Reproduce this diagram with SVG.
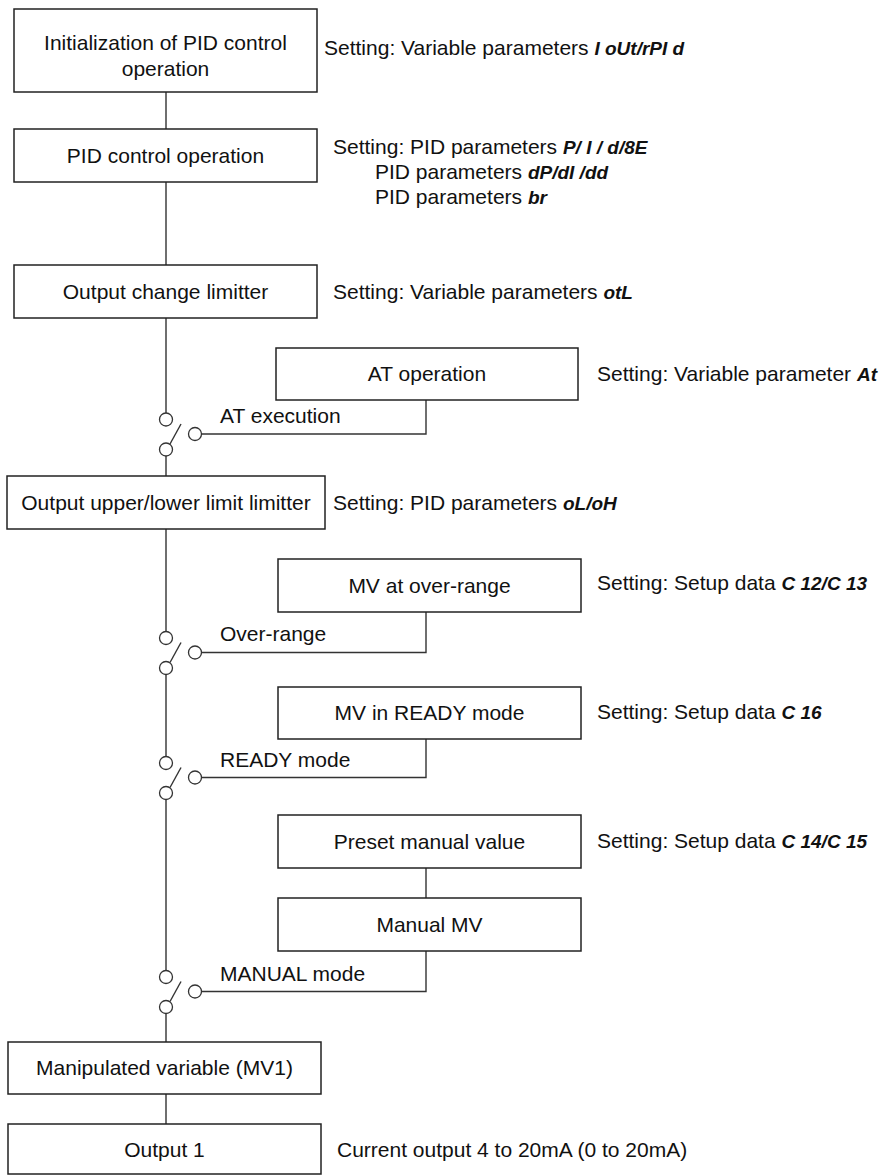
<svg xmlns="http://www.w3.org/2000/svg" width="887" height="1175" viewBox="0 0 887 1175">
<style>
.box{fill:#fff;stroke:#222;stroke-width:1.5}
.ln{fill:none;stroke:#333;stroke-width:1.4}
.ct{fill:#fff;stroke:#333;stroke-width:1.3}
text{font-family:"Liberation Sans",Arial,sans-serif;font-size:21px;fill:#111}
.c{text-anchor:middle}
.seg{font-style:italic;font-weight:bold;font-size:19px}
</style>
<rect width="887" height="1175" fill="#fff"/>
<g id="connectors">
<path class="ln" d="M166 92V129M166 182V265M166 318V413M166 456V476M166 529V631.5M166 674.5V756.5M166 799.5V970.5M166 1013.5V1042M166 1094V1124"/>
<path class="ln" d="M201.5 434H426V400M201.5 652.5H426V612M201.5 777.5H426V739M201.5 991.5H426V951M426 868V898"/>
<g id="sw-at"><circle class="ct" cx="166" cy="419.5" r="6.5"/><circle class="ct" cx="166" cy="449.5" r="6.5"/><circle class="ct" cx="195" cy="434" r="6.5"/><path class="ln" d="M170 444L181 424"/></g>
<g id="sw-or"><circle class="ct" cx="166" cy="638" r="6.5"/><circle class="ct" cx="166" cy="668" r="6.5"/><circle class="ct" cx="195" cy="652.5" r="6.5"/><path class="ln" d="M170 662.5L181 642.5"/></g>
<g id="sw-rd"><circle class="ct" cx="166" cy="763" r="6.5"/><circle class="ct" cx="166" cy="793" r="6.5"/><circle class="ct" cx="195" cy="777.5" r="6.5"/><path class="ln" d="M170 787.5L181 767.5"/></g>
<g id="sw-mn"><circle class="ct" cx="166" cy="977" r="6.5"/><circle class="ct" cx="166" cy="1007" r="6.5"/><circle class="ct" cx="195" cy="991.5" r="6.5"/><path class="ln" d="M170 1001.5L181 981.5"/></g>
<text x="220" y="423">AT execution</text>
<text x="220" y="641">Over-range</text>
<text x="220" y="767">READY mode</text>
<text x="220" y="981">MANUAL mode</text>
</g>
<g id="n-init"><rect class="box" x="14" y="9" width="303" height="83"/><text class="c" x="165.5" y="50">Initialization of PID control</text><text class="c" x="165.5" y="76">operation</text></g>
<g id="n-pid"><rect class="box" x="14" y="129" width="303" height="53"/><text class="c" x="165.5" y="163">PID control operation</text></g>
<g id="n-ocl"><rect class="box" x="14" y="265" width="303" height="53"/><text class="c" x="165.5" y="299">Output change limitter</text></g>
<g id="n-at"><rect class="box" x="276" y="348" width="302" height="52"/><text class="c" x="427" y="381">AT operation</text></g>
<g id="n-oul"><rect class="box" x="7" y="476" width="318" height="53"/><text class="c" x="166" y="510">Output upper/lower limit limitter</text></g>
<g id="n-mvor"><rect class="box" x="278" y="559" width="303" height="53"/><text class="c" x="429.5" y="593">MV at over-range</text></g>
<g id="n-mvrd"><rect class="box" x="278" y="687" width="303" height="52"/><text class="c" x="429.5" y="720">MV in READY mode</text></g>
<g id="n-pmv"><rect class="box" x="278" y="815" width="303" height="53"/><text class="c" x="429.5" y="849">Preset manual value</text></g>
<g id="n-mmv"><rect class="box" x="278" y="898" width="303" height="53"/><text class="c" x="429.5" y="932">Manual MV</text></g>
<g id="n-mv1"><rect class="box" x="8" y="1042" width="313" height="52"/><text class="c" x="164.5" y="1075">Manipulated variable (MV1)</text></g>
<g id="n-out1"><rect class="box" x="8" y="1124" width="313" height="50"/><text class="c" x="164.5" y="1157">Output 1</text></g>
<g id="settings">
<text x="324" y="55">Setting: Variable parameters <tspan class="seg">I oUt/rPI d</tspan></text>
<text x="333" y="154">Setting: PID parameters <tspan class="seg">P/ I / d/8E</tspan></text>
<text x="375" y="179">PID parameters <tspan class="seg">dP/dI /dd</tspan></text>
<text x="375" y="204">PID parameters <tspan class="seg">br</tspan></text>
<text x="333" y="299">Setting: Variable parameters <tspan class="seg">otL</tspan></text>
<text x="597" y="381">Setting: Variable parameter <tspan class="seg">At</tspan></text>
<text x="333" y="510">Setting: PID parameters <tspan class="seg">oL/oH</tspan></text>
<text x="597" y="590">Setting: Setup data <tspan class="seg">C 12/C 13</tspan></text>
<text x="597" y="719">Setting: Setup data <tspan class="seg">C 16</tspan></text>
<text x="597" y="848">Setting: Setup data <tspan class="seg">C 14/C 15</tspan></text>
<text x="337" y="1157">Current output 4 to 20mA (0 to 20mA)</text>
</g>
</svg>
